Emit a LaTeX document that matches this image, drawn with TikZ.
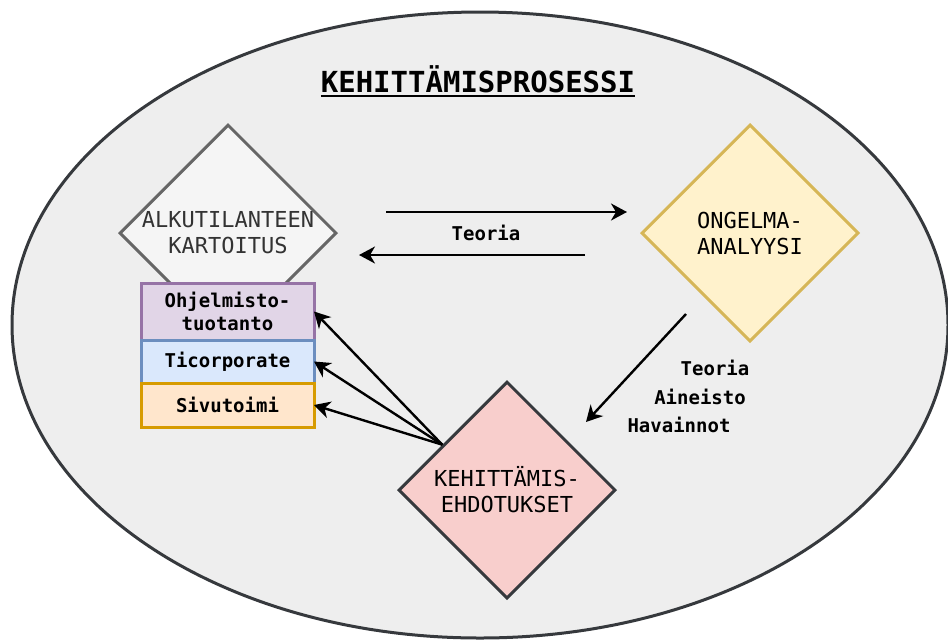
\documentclass[tikz,border=0pt]{standalone}
\usepackage{fontspec}
\setmonofont{DejaVu Sans Mono}
\usetikzlibrary{shapes.geometric,arrows.meta,positioning}

\newcommand\ulbox[1]{\setbox0\hbox{#1}\rlap{\rule[-5pt]{\wd0}{2.5pt}}\box0}

\definecolor{bggray}{HTML}{EEEEEE}
\definecolor{edgegray}{HTML}{36393D}
\definecolor{alkufill}{HTML}{F5F5F5}
\definecolor{alkudraw}{HTML}{666666}
\definecolor{alkutext}{HTML}{333333}
\definecolor{ongfill}{HTML}{FFF2CC}
\definecolor{ongdraw}{HTML}{D6B656}
\definecolor{ehdfill}{HTML}{F8CECC}
\definecolor{purplefill}{HTML}{E1D5E7}
\definecolor{purpledraw}{HTML}{9673A6}
\definecolor{bluefill}{HTML}{DAE8FC}
\definecolor{bluedraw}{HTML}{6C8EBF}
\definecolor{orangefill}{HTML}{FFE6CC}
\definecolor{orangedraw}{HTML}{D79B00}

\tikzstyle{d} = [diamond, aspect=1, inner sep=0pt, minimum width=217pt, minimum height=217pt, line width=3pt, align=center, font=\ttfamily\fontsize{22}{26}\selectfont]
\tikzstyle{b} = [rectangle, inner sep=0pt, outer sep=0pt, minimum width=173pt, line width=3pt, align=center, font=\ttfamily\bfseries\fontsize{19}{23}\selectfont]
\tikzstyle{l} = [font=\ttfamily\bfseries\fontsize{19}{23}\selectfont]

\begin{document}
\begin{tikzpicture}[x=1pt,y=-1pt,->,>={Stealth[length=16pt,width=17pt,inset=5pt]},line width=2.4pt]
\useasboundingbox (0,0) rectangle (948,641);

\node[ellipse, draw=edgegray, fill=bggray, line width=3pt, minimum width=936pt, minimum height=626pt] (prosessi) at (480,325) {};
\node[anchor=base, font=\ttfamily\bfseries\fontsize{29}{34}\selectfont] (title) at (478,92) {\ulbox{KEHITTÄMISPROSESSI}};

\node[d, draw=alkudraw, fill=alkufill, text=alkutext] (alku) at (228,233) {ALKUTILANTEEN\\KARTOITUS};
\node[d, draw=ongdraw, fill=ongfill] (ongelma) at (750,233) {ONGELMA-\\ANALYYSI};
\node[d, draw=edgegray, fill=ehdfill] (ehdot) at (507,490) {KEHITTÄMIS-\\EHDOTUKSET};

\node[b, draw=purpledraw, fill=purplefill, minimum height=57pt] (ohjelmisto) at (227.5,311.5) {Ohjelmisto-\\tuotanto};
\node[b, draw=bluedraw, fill=bluefill, minimum height=43pt] (ticorp) [below=0pt of ohjelmisto] {Ticorporate};
\node[b, draw=orangedraw, fill=orangefill, minimum height=44pt] (sivutoimi) [below=0pt of ticorp] {Sivutoimi};

\draw[->] ([xshift=48pt,yshift=21pt]alku.east) -- ([xshift=-13pt,yshift=21pt]ongelma.west);
\draw[->] ([xshift=-55pt,yshift=-22pt]ongelma.west) -- ([xshift=21pt,yshift=-22pt]alku.east)
  node[pos=0.5, above, xshift=14pt, yshift=10pt, l] (teoria) {Teoria};
\draw[->] ([xshift=-64pt,yshift=29pt]ongelma.south) -- ([xshift=79pt,yshift=-42pt]ehdot.north);

\node[l] (teoria2) at (715,368) {Teoria};
\node[l] (aineisto) at (700,397) {Aineisto};
\node[l] (havainnot) at (679,425) {Havainnot};

\draw[->] (ehdot.145) -- (ohjelmisto.east);
\draw[->] (ehdot.145) -- (ticorp.east);
\draw[->] (ehdot.145) -- (sivutoimi.east);

\end{tikzpicture}
\end{document}
